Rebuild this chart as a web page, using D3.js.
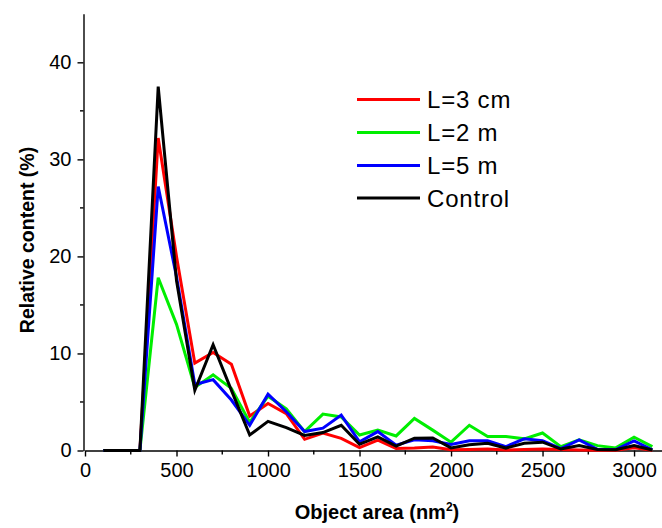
<!DOCTYPE html>
<html>
<head>
<meta charset="utf-8">
<script src="https://cdn.jsdelivr.net/npm/d3@7"></script>
<style>
  html, body { margin: 0; padding: 0; background: #fff; }
  svg { display: block; }
  text { font-family: "Liberation Sans", Arial, sans-serif; fill: #000; }
</style>
</head>
<body>
<svg id="chart" width="662" height="528"></svg>
<script>
// Object area bins (nm^2)
const areas = [100, 200, 300, 400, 500, 600, 700, 800, 900, 1000, 1100, 1200, 1300, 1400, 1500, 1600,
               1700, 1800, 1900, 2000, 2100, 2200, 2300, 2400, 2500, 2600, 2700, 2800, 2900, 3000, 3100];

// Relative content (%) for each sample
const l3cm = [0, 0, 0, 32.2, 20.0, 9.0, 10.1, 8.9, 3.55, 4.85, 3.8, 1.15, 1.8, 1.25, 0.3, 1.07,
              0.2, 0.25, 0.35, 0.07, 0.1, 0.15, 0.05, 0.1, 0.15, 0.1, 0.05, 0.03, 0.03, 0.27, 0.03];
const l2m  = [0, 0, 0, 17.8, 13.0, 6.5, 7.8, 6.4, 2.9, 5.6, 4.3, 1.95, 3.75, 3.45, 1.6, 2.1,
              1.5, 3.3, 2.1, 0.86, 2.6, 1.45, 1.45, 1.2, 1.8, 0.4, 1.1, 0.5, 0.27, 1.37, 0.4];
const l5m  = [0, 0, 0, 27.2, 17.9, 6.8, 7.3, 5.2, 2.6, 5.8, 4.0, 1.95, 2.3, 3.65, 0.9, 1.95,
              0.55, 1.1, 1.0, 0.62, 1.0, 1.0, 0.4, 1.2, 1.0, 0.2, 1.1, 0.12, 0.1, 1.0, 0.08];
const control = [0, 0, 0, 37.5, 17.5, 6.2, 10.9, 6.2, 1.6, 3.0, 2.35, 1.55, 1.85, 2.6, 0.65, 1.4,
                 0.46, 1.27, 1.3, 0.27, 0.6, 0.75, 0.25, 0.75, 0.86, 0.15, 0.5, 0.1, 0.08, 0.5, 0.05];

const seriesNames = ["L=3 cm", "L=2 m", "L=5 m", "Control"];
const seriesValues = [l3cm, l2m, l5m, control];
const seriesColors = ["#ff0000", "#00ee00", "#0000ff", "#000000"];

const xTicks = [0, 500, 1000, 1500, 2000, 2500, 3000];
const yTicks = [0, 10, 20, 30, 40];

const svg = d3.select("#chart");

const x = d3.scaleLinear().domain([0, 3150]).range([85, 661.5]);
const y = d3.scaleLinear().domain([0, 45]).range([450.5, 13.8]);

// Minor ticks
const xMinor = d3.range(250, 3150, 500);
const yMinor = d3.range(5, 45, 10);

const tickFont = g => g.selectAll(".tick text")
  .attr("font-size", 20)
  .attr("font-family", "Liberation Sans, Arial, sans-serif")
  .attr("fill", "#111");

const gx = svg.append("g").attr("transform", `translate(0,${y(0)})`);
gx.call(d3.axisBottom(x).tickValues(xTicks).tickFormat(d3.format("d"))
          .tickSize(6).tickPadding(6).tickSizeOuter(0))
  .call(g => g.select(".domain").attr("stroke-width", 1.4))
  .call(g => g.selectAll(".tick line").attr("stroke-width", 1.4))
  .call(tickFont);
gx.selectAll(".minor").data(xMinor).enter().append("line")
  .attr("x1", d => x(d)).attr("x2", d => x(d)).attr("y1", 0).attr("y2", 4)
  .attr("stroke", "#000").attr("stroke-width", 1.4);

const gy = svg.append("g").attr("transform", `translate(${x(0) - 1.5},0)`);
gy.call(d3.axisLeft(y).tickValues(yTicks).tickFormat(d3.format("d"))
          .tickSize(6).tickPadding(6).tickSizeOuter(0))
  .call(g => g.select(".domain").attr("stroke-width", 1.4))
  .call(g => g.selectAll(".tick line").attr("stroke-width", 1.4))
  .call(tickFont);
gy.selectAll(".minor").data(yMinor).enter().append("line")
  .attr("x1", 0).attr("x2", -3.5).attr("y1", d => y(d)).attr("y2", d => y(d))
  .attr("stroke", "#000").attr("stroke-width", 1.4);

// Axis titles
const xt = svg.append("text")
  .attr("x", 377).attr("y", 519)
  .attr("text-anchor", "middle")
  .attr("font-size", 20).attr("font-weight", "bold");
xt.append("tspan").text("Object area (nm");
xt.append("tspan").text("2").attr("font-size", 12).attr("dy", -8);
xt.append("tspan").text(")").attr("dy", 8);

svg.append("text")
  .attr("transform", "translate(34,240) rotate(-90)")
  .attr("text-anchor", "middle")
  .attr("font-size", 19.5).attr("font-weight", "bold")
  .text("Relative content (%)");

// Series lines
const line = d3.line().x((d, i) => x(areas[i])).y(d => y(d));
seriesValues.forEach((vals, k) => {
  svg.append("path")
    .datum(vals)
    .attr("d", line)
    .attr("fill", "none")
    .attr("stroke", seriesColors[k])
    .attr("stroke-width", 3)
    .attr("stroke-linejoin", "miter");
});

// Legend
const legendRows = [99.5, 132.5, 165.5, 198];
seriesNames.forEach((name, k) => {
  const g = svg.append("g").attr("transform", `translate(357,${legendRows[k]})`);
  g.append("line").attr("x1", 0).attr("x2", 63).attr("y1", 0).attr("y2", 0)
    .attr("stroke", seriesColors[k]).attr("stroke-width", 3);
  g.append("text").attr("x", 70).attr("y", 8.5)
    .attr("font-size", 24).attr("letter-spacing", 0.8).text(name);
});
</script>
</body>
</html>
